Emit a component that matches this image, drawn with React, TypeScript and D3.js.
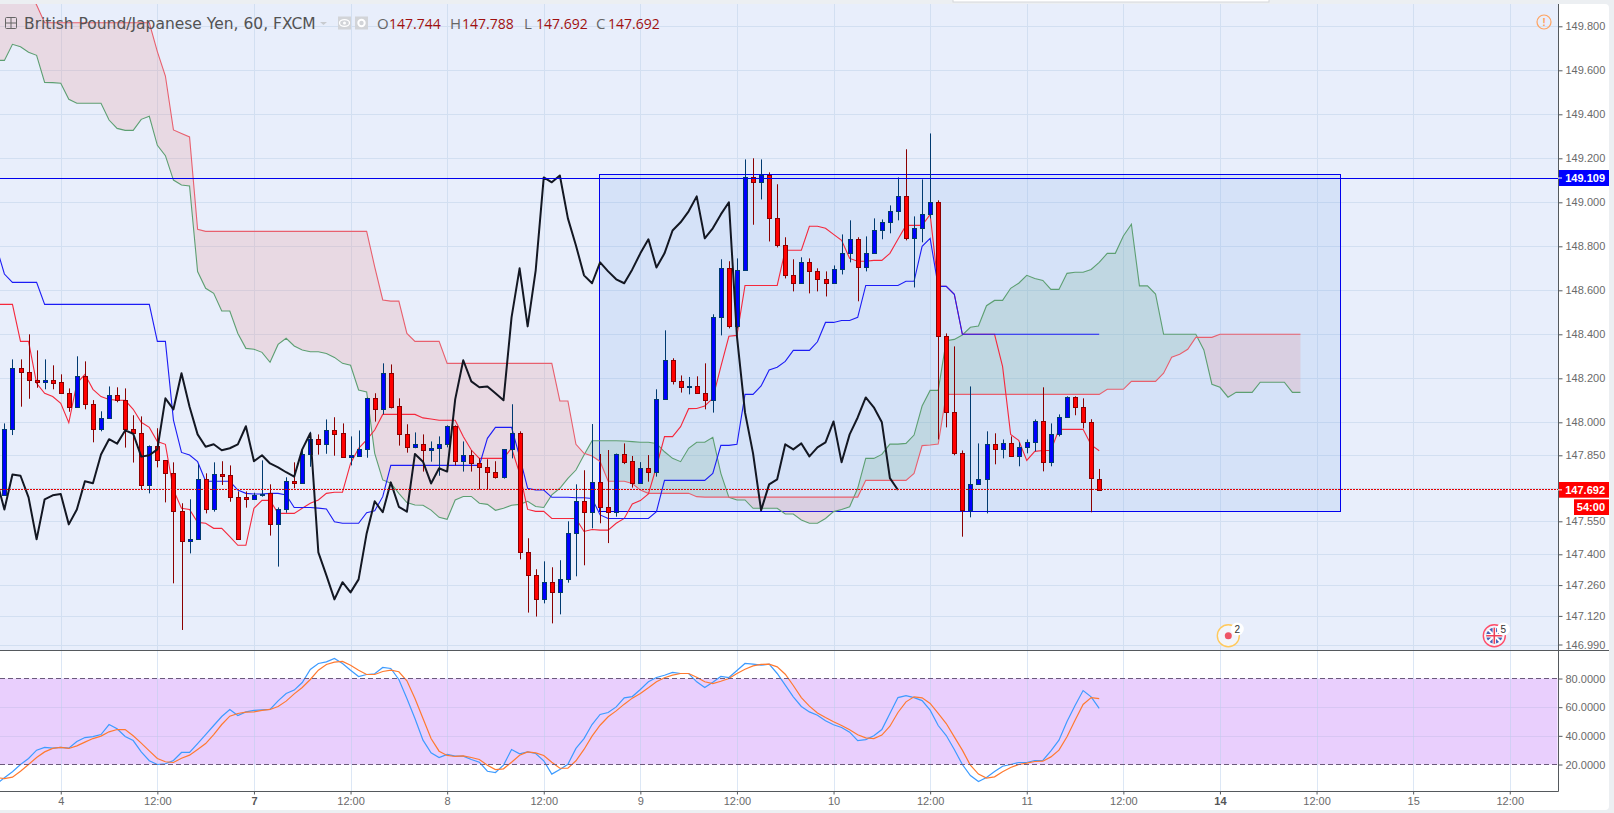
import { useRef, useEffect } from "react";
import * as d3 from "d3";

// candles, one per hour
const opens = [
  147.670, 147.968, 148.245, 148.227, 148.191, 148.185, 148.191, 148.182, 148.132, 148.068,
  148.209, 148.082, 147.968, 148.018, 148.123, 148.100, 147.968, 147.950, 147.713, 147.891,
  147.827, 147.768, 147.595, 147.459, 147.468, 147.741, 147.604, 147.763, 147.759, 147.659,
  147.659, 147.650, 147.668, 147.677, 147.536, 147.604, 147.732, 147.723, 147.854, 147.923,
  147.903, 147.963, 147.950, 147.844, 147.848, 147.877, 148.109, 148.059, 148.223, 148.073,
  147.945, 147.889, 147.900, 147.873, 147.882, 147.900, 147.982, 147.823, 147.850, 147.813,
  147.795, 147.773, 147.753, 147.877, 147.950, 147.409, 147.304, 147.195, 147.273, 147.227,
  147.286, 147.495, 147.641, 147.591, 147.727, 147.616, 147.594, 147.856, 147.824, 147.722,
  147.791, 147.776, 148.104, 148.282, 148.186, 148.159, 148.163, 148.132, 148.100, 148.477,
  148.700, 148.436, 148.691, 149.113, 149.091, 149.122, 148.927, 148.804, 148.668, 148.632,
  148.727, 148.686, 148.650, 148.632, 148.695, 148.768, 148.832, 148.704, 148.768, 148.872,
  148.909, 148.959, 149.027, 148.836, 148.882, 148.945, 149.000, 148.391, 148.045, 147.859,
  147.600, 147.718, 147.741, 147.900, 147.877, 147.904, 147.845, 147.886, 147.909, 148.004,
  147.818, 147.945, 148.022, 148.113, 148.068, 148.000, 147.744,
];
const highs = [
  147.995, 148.286, 148.286, 148.400, 148.327, 148.286, 148.259, 148.218, 148.154, 148.300,
  148.277, 148.101, 148.050, 148.163, 148.159, 148.154, 148.032, 148.027, 147.895, 147.973,
  147.827, 147.818, 147.632, 147.650, 147.809, 147.768, 147.818, 147.823, 147.804, 147.686,
  147.686, 147.680, 147.827, 147.718, 147.613, 147.750, 147.818, 147.882, 147.957, 147.945,
  148.013, 148.023, 147.995, 147.936, 147.963, 148.112, 148.132, 148.268, 148.263, 148.109,
  147.991, 147.954, 147.945, 147.913, 147.936, 147.986, 147.986, 147.913, 147.873, 147.836,
  147.832, 147.823, 147.877, 148.082, 147.959, 147.473, 147.332, 147.368, 147.341, 147.373,
  147.550, 147.718, 147.782, 147.992, 147.856, 147.874, 147.858, 147.904, 147.847, 147.819,
  147.851, 148.150, 148.418, 148.291, 148.213, 148.206, 148.209, 148.268, 148.491, 148.741,
  148.732, 148.745, 149.195, 149.200, 149.195, 149.136, 149.082, 148.841, 148.741, 148.750,
  148.745, 148.700, 148.686, 148.713, 148.854, 148.918, 148.841, 148.845, 148.927, 148.922,
  148.986, 149.113, 149.241, 148.936, 149.104, 149.313, 149.009, 148.404, 148.345, 147.872,
  148.163, 147.904, 147.959, 147.950, 147.922, 147.936, 147.909, 147.922, 148.013, 148.159,
  147.995, 148.036, 148.118, 148.118, 148.109, 148.014, 147.788,
];
const lows = [
  147.665, 147.942, 148.071, 148.107, 148.157, 148.150, 148.150, 148.132, 148.048, 148.068,
  148.059, 147.909, 147.959, 148.018, 148.091, 147.885, 147.817, 147.695, 147.677, 147.795,
  147.636, 147.268, 147.056, 147.404, 147.468, 147.586, 147.594, 147.715, 147.639, 147.468,
  147.612, 147.650, 147.662, 147.485, 147.344, 147.589, 147.700, 147.723, 147.798, 147.853,
  147.857, 147.848, 147.839, 147.804, 147.848, 147.839, 148.003, 148.036, 148.063, 147.894,
  147.862, 147.882, 147.776, 147.821, 147.757, 147.886, 147.804, 147.776, 147.776, 147.695,
  147.695, 147.744, 147.744, 147.836, 147.377, 147.135, 147.117, 147.177, 147.086, 147.127,
  147.271, 147.300, 147.350, 147.518, 147.541, 147.451, 147.571, 147.810, 147.703, 147.722,
  147.730, 147.753, 148.104, 148.172, 148.135, 148.127, 148.129, 148.059, 148.044, 148.395,
  148.427, 148.427, 148.691, 148.898, 149.013, 148.822, 148.795, 148.654, 148.595, 148.632,
  148.586, 148.595, 148.572, 148.632, 148.672, 148.727, 148.550, 148.686, 148.768, 148.832,
  148.859, 148.918, 148.827, 148.613, 148.818, 148.927, 147.922, 147.977, 147.850, 147.480,
  147.568, 147.718, 147.586, 147.809, 147.836, 147.845, 147.800, 147.859, 147.868, 147.777,
  147.800, 147.936, 148.022, 148.032, 147.972, 147.591, 147.692,
];
const closes = [
  147.968, 148.245, 148.227, 148.191, 148.185, 148.191, 148.180, 148.132, 148.068, 148.209,
  148.082, 147.968, 148.018, 148.123, 148.100, 147.968, 147.950, 147.713, 147.891, 147.827,
  147.768, 147.595, 147.459, 147.468, 147.741, 147.604, 147.763, 147.757, 147.659, 147.468,
  147.650, 147.668, 147.674, 147.536, 147.604, 147.732, 147.723, 147.854, 147.923, 147.903,
  147.963, 147.948, 147.844, 147.850, 147.877, 148.109, 148.059, 148.223, 148.071, 147.945,
  147.889, 147.900, 147.873, 147.882, 147.900, 147.982, 147.823, 147.850, 147.813, 147.795,
  147.773, 147.753, 147.877, 147.950, 147.409, 147.304, 147.195, 147.273, 147.227, 147.286,
  147.495, 147.641, 147.591, 147.727, 147.616, 147.594, 147.856, 147.821, 147.722, 147.791,
  147.776, 148.104, 148.282, 148.186, 148.159, 148.163, 148.132, 148.100, 148.477, 148.700,
  148.436, 148.691, 149.113, 149.091, 149.122, 148.927, 148.804, 148.668, 148.632, 148.727,
  148.686, 148.650, 148.632, 148.695, 148.768, 148.832, 148.704, 148.768, 148.872, 148.909,
  148.959, 149.027, 148.836, 148.882, 148.945, 149.000, 148.391, 148.045, 147.859, 147.600,
  147.718, 147.741, 147.900, 147.877, 147.904, 147.845, 147.886, 147.909, 148.004, 147.818,
  147.945, 148.022, 148.113, 148.068, 148.000, 147.746, 147.692,
];

// ichimoku lines, all start one bar left of the first candle
const tenkan = [
  148.536, 148.536, 148.536, 148.368, 148.368, 148.177, 148.132, 148.117, 148.086, 147.998,
  148.177, 148.218, 148.150, 148.117, 148.104, 148.100, 148.100, 148.059, 148.000, 147.977,
  147.913, 147.900, 147.692, 147.609, 147.604, 147.545, 147.541, 147.518, 147.518, 147.480,
  147.441, 147.441, 147.609, 147.645, 147.645, 147.586, 147.586, 147.586, 147.609, 147.632,
  147.647, 147.677, 147.682, 147.682, 147.813, 147.882, 147.920, 147.965, 148.036, 148.036,
  148.036, 148.036, 148.036, 148.020, 148.015, 148.009, 148.009, 148.009, 147.935, 147.874,
  147.836, 147.836, 147.836, 147.836, 147.882, 147.768, 147.604, 147.595, 147.595, 147.563,
  147.563, 147.563, 147.563, 147.504, 147.513, 147.510, 147.510, 147.541, 147.563, 147.629,
  147.644, 147.674, 147.798, 147.935, 147.935, 147.980, 148.062, 148.063, 148.074, 148.109,
  148.253, 148.391, 148.395, 148.622, 148.622, 148.622, 148.622, 148.622, 148.782, 148.782,
  148.782, 148.891, 148.891, 148.882, 148.854, 148.827, 148.745, 148.732, 148.732, 148.736,
  148.736, 148.768, 148.832, 148.895, 148.895, 148.895, 148.945, 148.618, 148.618, 148.582,
  148.400, 148.400, 148.400, 148.400, 148.400, 148.253, 147.945, 147.918, 147.827, 147.868,
  147.872, 147.872, 147.968, 147.968, 147.968, 147.968, 147.897, 147.871,
];
const kijun = [
  148.798, 148.674, 148.636, 148.636, 148.636, 148.636, 148.536, 148.536, 148.536, 148.536,
  148.536, 148.536, 148.536, 148.536, 148.536, 148.536, 148.536, 148.536, 148.536, 148.536,
  148.368, 148.368, 148.010, 147.863, 147.851, 147.821, 147.732, 147.732, 147.732, 147.732,
  147.692, 147.677, 147.674, 147.674, 147.677, 147.677, 147.670, 147.613, 147.613, 147.613,
  147.610, 147.606, 147.548, 147.541, 147.541, 147.541, 147.589, 147.598, 147.662, 147.804,
  147.804, 147.804, 147.804, 147.804, 147.804, 147.804, 147.804, 147.804, 147.804, 147.804,
  147.804, 147.927, 147.977, 147.977, 147.977, 147.844, 147.700, 147.692, 147.692, 147.659,
  147.659, 147.659, 147.657, 147.657, 147.654, 147.579, 147.563, 147.563, 147.563, 147.563,
  147.563, 147.563, 147.594, 147.736, 147.736, 147.736, 147.736, 147.736, 147.736, 147.768,
  147.895, 147.895, 147.900, 148.127, 148.127, 148.165, 148.238, 148.250, 148.277, 148.327,
  148.327, 148.327, 148.366, 148.454, 148.454, 148.463, 148.463, 148.477, 148.622, 148.622,
  148.622, 148.622, 148.622, 148.641, 148.641, 148.800, 148.836, 148.618, 148.618, 148.582,
  148.400, 148.400, 148.400, 148.400, 148.400, 148.400, 148.400, 148.400, 148.400, 148.400,
  148.400, 148.400, 148.400, 148.400, 148.400, 148.400, 148.400, 148.400,
];
const spanA = [
  149.645, 149.645, 149.718, 149.707, 149.682, 149.668, 149.545, 149.544, 149.541, 149.468,
  149.450, 149.450, 149.450, 149.450, 149.374, 149.336, 149.327, 149.327, 149.377, 149.391,
  149.259, 149.212, 149.101, 149.079, 149.074, 148.685, 148.609, 148.586, 148.506, 148.506,
  148.404, 148.336, 148.332, 148.318, 148.273, 148.354, 148.382, 148.347, 148.329, 148.321,
  148.321, 148.313, 148.295, 148.268, 148.259, 148.147, 148.138, 147.859, 147.738, 147.723,
  147.677, 147.635, 147.624, 147.623, 147.601, 147.568, 147.559, 147.647, 147.663, 147.663,
  147.632, 147.627, 147.600, 147.609, 147.623, 147.627, 147.641, 147.617, 147.613, 147.670,
  147.700, 147.745, 147.783, 147.851, 147.916, 147.916, 147.916, 147.916, 147.915, 147.912,
  147.909, 147.909, 147.904, 147.866, 147.836, 147.821, 147.882, 147.909, 147.909, 147.932,
  147.768, 147.659, 147.647, 147.647, 147.609, 147.609, 147.609, 147.609, 147.583, 147.583,
  147.556, 147.541, 147.541, 147.563, 147.594, 147.604, 147.616, 147.700, 147.836, 147.836,
  147.854, 147.901, 147.901, 147.904, 147.942, 148.074, 148.145, 148.145, 148.371, 148.377,
  148.397, 148.432, 148.438, 148.530, 148.554, 148.554, 148.609, 148.632, 148.668, 148.654,
  148.645, 148.604, 148.604, 148.677, 148.682, 148.682, 148.695, 148.727, 148.768, 148.768,
  148.847, 148.900, 148.620, 148.620, 148.583, 148.400, 148.400, 148.400, 148.400, 148.400,
  148.329, 148.173, 148.159, 148.114, 148.136, 148.136, 148.136, 148.182, 148.182, 148.182,
  148.182, 148.136, 148.136,
];
const spanB = [
  150.100, 150.100, 150.100, 150.100, 149.965, 149.897, 149.816, 149.816, 149.816, 149.816,
  149.816, 149.816, 149.816, 149.816, 149.816, 149.816, 149.816, 149.816, 149.816, 149.816,
  149.685, 149.574, 149.329, 149.313, 149.297, 148.877, 148.868, 148.868, 148.868, 148.868,
  148.868, 148.868, 148.868, 148.868, 148.868, 148.868, 148.868, 148.868, 148.868, 148.868,
  148.868, 148.868, 148.868, 148.868, 148.868, 148.868, 148.868, 148.707, 148.556, 148.551,
  148.551, 148.404, 148.368, 148.368, 148.368, 148.368, 148.268, 148.268, 148.268, 148.268,
  148.268, 148.268, 148.268, 148.268, 148.268, 148.268, 148.268, 148.268, 148.268, 148.268,
  148.097, 148.097, 147.900, 147.859, 147.847, 147.822, 147.732, 147.732, 147.732, 147.722,
  147.692, 147.677, 147.677, 147.677, 147.677, 147.677, 147.677, 147.662, 147.660, 147.660,
  147.660, 147.660, 147.660, 147.660, 147.660, 147.660, 147.660, 147.660, 147.660, 147.660,
  147.660, 147.660, 147.660, 147.660, 147.660, 147.660, 147.660, 147.660, 147.736, 147.736,
  147.736, 147.736, 147.736, 147.736, 147.768, 147.894, 147.897, 147.901, 148.127, 148.127,
  148.127, 148.127, 148.127, 148.127, 148.127, 148.127, 148.127, 148.127, 148.127, 148.127,
  148.127, 148.127, 148.127, 148.127, 148.127, 148.127, 148.127, 148.127, 148.150, 148.150,
  148.150, 148.186, 148.186, 148.186, 148.186, 148.223, 148.296, 148.309, 148.332, 148.386,
  148.386, 148.386, 148.400, 148.400, 148.400, 148.400, 148.400, 148.400, 148.400, 148.400,
  148.400, 148.400, 148.400,
];

// stochastic pane, also starting one bar left of the first candle
const stochK = [
  6.3, 10.7, 14.9, 20.0, 24.2, 30.0, 31.9, 31.4, 31.9, 31.4,
  36.0, 38.8, 39.5, 40.9, 47.9, 44.9, 39.5, 36.7, 28.8, 22.6,
  20.0, 20.5, 22.8, 28.4, 28.4, 34.6, 40.9, 47.2, 53.5, 58.4,
  54.2, 56.7, 57.7, 58.1, 58.4, 64.4, 69.5, 71.9, 77.2, 86.3,
  90.5, 91.6, 94.0, 90.5, 85.8, 81.4, 82.8, 83.3, 87.7, 87.0,
  79.3, 66.0, 52.1, 37.0, 28.1, 24.9, 27.0, 25.8, 25.8, 23.5,
  21.6, 15.3, 14.4, 19.5, 30.5, 27.4, 28.8, 27.7, 22.6, 13.3,
  16.5, 20.2, 31.2, 38.1, 47.9, 54.9, 56.3, 60.2, 66.5, 67.4,
  72.3, 77.7, 80.7, 82.3, 84.2, 83.5, 83.5, 77.7, 73.7, 77.4,
  81.4, 80.7, 85.6, 90.5, 90.0, 89.3, 90.0, 83.5, 75.4, 67.2,
  60.5, 56.7, 54.4, 50.5, 47.7, 45.8, 42.6, 36.7, 37.4, 40.0,
  44.4, 55.6, 66.7, 68.1, 66.7, 64.6, 57.9, 47.2, 40.2, 30.5,
  20.0, 12.3, 8.1, 10.9, 15.1, 18.8, 20.0, 21.4, 21.4, 22.8,
  22.8, 29.5, 37.0, 50.0, 61.2, 71.6, 67.2, 59.1,
];
const stochD = [
  10.9, 10.2, 11.2, 15.3, 20.0, 24.9, 28.8, 31.2, 31.9, 31.2,
  33.0, 35.6, 38.1, 39.8, 42.8, 44.4, 44.4, 40.0, 34.9, 29.5,
  24.2, 21.9, 21.4, 24.4, 26.5, 30.5, 34.6, 40.9, 47.9, 53.7,
  55.6, 56.5, 56.7, 57.7, 58.4, 60.5, 64.2, 69.3, 73.7, 79.3,
  85.8, 89.8, 91.4, 91.9, 89.3, 85.8, 82.8, 82.8, 84.9, 85.8,
  84.7, 78.4, 66.0, 52.1, 38.1, 29.3, 26.3, 25.6, 26.0, 24.9,
  23.5, 19.5, 16.5, 17.0, 21.6, 26.5, 28.8, 28.1, 26.3, 21.6,
  17.4, 17.4, 22.6, 30.5, 39.8, 47.4, 53.3, 57.4, 62.1, 66.3,
  69.5, 73.5, 77.7, 80.5, 82.3, 83.5, 83.5, 80.9, 77.7, 76.5,
  78.1, 80.0, 83.5, 86.5, 88.8, 89.8, 90.0, 88.1, 83.0, 75.1,
  66.7, 60.7, 56.0, 52.8, 49.8, 47.2, 44.2, 40.7, 38.6, 38.1,
  40.5, 46.7, 56.3, 63.7, 67.2, 66.5, 62.6, 55.6, 48.6, 39.3,
  30.0, 19.5, 13.3, 10.5, 11.4, 14.9, 17.9, 20.0, 20.9, 22.1,
  22.3, 25.3, 30.0, 39.3, 50.9, 61.9, 66.7, 66.0,
];

const priceTicks = [
  149.8, 149.6, 149.4, 149.2, 149.0, 148.8, 148.6, 148.4, 148.2, 148.0, 147.85, 147.7,
  147.55, 147.4, 147.26, 147.12, 146.99,
];
const stochTicks = [80, 60, 40, 20];
const timeTickBars = [7, 19, 31, 43, 55, 67, 79, 91, 103, 115, 127, 139, 151, 163, 175, 187];
const timeTickLabels = [
  "4", "12:00", "7", "12:00", "8", "12:00", "9", "12:00", "10", "12:00", "11", "12:00", "14",
  "12:00", "15", "12:00",
];
const boldTimeLabels = ["7", "14"];

const levelPrice = 149.109;
const lastPrice = 147.692;
const boxBars = [74, 166];
const boxPrices = [149.127, 147.595];
const ohlcLabels = ["O", "H", "L", "C"];
const ohlcValues = ["147.744", "147.788", "147.692", "147.692"];
const ohlcX = [377, 450, 524, 596];

const WIDTH = 1614;
const HEIGHT = 813;
const AXIS_X = 1558.5;
const PANE_TOP = 4;
const PANE_BOTTOM = 650.5;
const TIME_Y = 791.5;
const AXIS_FONT = "'Liberation Sans', Arial, sans-serif";

export default function App() {
  const ref = useRef<SVGSVGElement>(null);

  useEffect(() => {
    if (!ref.current) return;
    const svg = d3.select(ref.current);
    svg.selectAll("*").remove();

    const x = d3.scaleLinear().domain([0, 136]).range([4.4, 1099.2]);
    const y = d3.scaleLinear().domain([149.8, 146.99]).range([26.3, 644.5]);
    const yStoch = d3.scaleLinear().domain([80, 20]).range([678.5, 764.5]);

    // page, white panels and the blue price pane
    svg.append("rect").attr("width", WIDTH).attr("height", HEIGHT).attr("fill", "#eceff2");
    svg.append("rect").attr("x", -6).attr("y", PANE_TOP).attr("width", 1615).attr("height", 806)
      .attr("rx", 4).attr("fill", "#ffffff");
    svg.append("rect").attr("y", PANE_TOP).attr("width", AXIS_X).attr("height", PANE_BOTTOM - PANE_TOP)
      .attr("fill", "#e8eefb");
    svg.append("rect").attr("x", 953).attr("y", -2).attr("width", 316).attr("height", 4)
      .attr("fill", "#ffffff").attr("stroke", "#d5d7da");

    const defs = svg.append("defs");
    defs.append("clipPath").attr("id", "pane").append("rect")
      .attr("y", PANE_TOP).attr("width", AXIS_X).attr("height", PANE_BOTTOM - PANE_TOP);
    defs.append("clipPath").attr("id", "stoch").append("rect")
      .attr("y", PANE_BOTTOM).attr("width", AXIS_X).attr("height", TIME_Y - PANE_BOTTOM);
    defs.append("clipPath").attr("id", "axis").append("rect")
      .attr("x", AXIS_X).attr("y", PANE_TOP).attr("width", 52).attr("height", PANE_BOTTOM - PANE_TOP);

    // stochastic band sits below the grid
    svg.append("rect").attr("y", yStoch(80)).attr("width", AXIS_X - 1)
      .attr("height", yStoch(20) - yStoch(80)).attr("fill", "#e9cffd");

    // grid
    const grid = svg.append("g").attr("fill", "none");
    grid.append("g").selectAll("line").data(priceTicks).join("line")
      .attr("x2", AXIS_X).attr("y1", (d) => Math.round(y(d)) + 0.5).attr("y2", (d) => Math.round(y(d)) + 0.5)
      .attr("stroke", "#d2dff1");
    grid.append("g").selectAll("line").data(stochTicks.slice(1, 3)).join("line")
      .attr("x2", AXIS_X - 1).attr("y1", (d) => Math.round(yStoch(d)) + 0.5).attr("y2", (d) => Math.round(yStoch(d)) + 0.5)
      .attr("stroke", "#d8c6f3");
    grid.append("g").selectAll("line").data(timeTickBars).join("line")
      .attr("x1", (d) => Math.round(x(d)) + 0.5).attr("x2", (d) => Math.round(x(d)) + 0.5)
      .attr("y1", PANE_TOP).attr("y2", PANE_BOTTOM)
      .attr("stroke", "#d2dff1");
    grid.append("g").selectAll("line").data(timeTickBars).join("line")
      .attr("x1", (d) => Math.round(x(d)) + 0.5).attr("x2", (d) => Math.round(x(d)) + 0.5)
      .attr("y1", PANE_BOTTOM).attr("y2", TIME_Y)
      .attr("stroke", "#b9d0ec").attr("stroke-opacity", 0.5);

    const pane = svg.append("g").attr("clip-path", "url(#pane)");

    // rectangle drawing
    pane.append("rect")
      .attr("x", Math.round(x(boxBars[0])) - 0.5)
      .attr("y", Math.round(y(boxPrices[0])) + 0.5)
      .attr("width", Math.round(x(boxBars[1])) - Math.round(x(boxBars[0])))
      .attr("height", Math.round(y(boxPrices[1])) - Math.round(y(boxPrices[0])))
      .attr("fill", "#699eee").attr("fill-opacity", 0.15)
      .attr("stroke", "#0000ee").attr("stroke-width", 1);

    // cloud, split where the two spans cross so each side gets its own colour
    const cloud: { i: number; a: number; b: number }[] = [];
    spanA.forEach((a, k) => {
      const b = spanB[k];
      if (k > 0) {
        const d0 = spanA[k - 1] - spanB[k - 1];
        const d1 = a - b;
        if (d0 * d1 < 0) {
          const t = d0 / (d0 - d1);
          const p = spanA[k - 1] + (a - spanA[k - 1]) * t;
          cloud.push({ i: k - 2 + t, a: p, b: p });
        }
      }
      cloud.push({ i: k - 1, a, b });
    });
    const cloudArea = (pick: (a: number, b: number) => number) =>
      d3.area<{ i: number; a: number; b: number }>()
        .x((d) => x(d.i))
        .y0((d) => y(d.a))
        .y1((d) => y(pick(d.a, d.b)));
    pane.append("path").datum(cloud).attr("d", cloudArea(Math.max))
      .attr("fill", "#ed8588").attr("fill-opacity", 0.2);
    pane.append("path").datum(cloud).attr("d", cloudArea(Math.min))
      .attr("fill", "#6cb08b").attr("fill-opacity", 0.2);

    const seriesLine = d3.line<number>()
      .x((_, k) => x(k - 1))
      .y((d) => y(d));

    pane.append("path").datum(spanA).attr("d", seriesLine).attr("fill", "none")
      .attr("stroke", "#5d9f72").attr("stroke-width", 1.1);
    pane.append("path").datum(spanB).attr("d", seriesLine).attr("fill", "none")
      .attr("stroke", "#e8606e").attr("stroke-width", 1.1);
    pane.append("path").datum(tenkan).attr("d", seriesLine).attr("fill", "none")
      .attr("stroke", "#f5283c").attr("stroke-width", 1.1);
    pane.append("path").datum(kijun).attr("d", seriesLine).attr("fill", "none")
      .attr("stroke", "#1c1cf5").attr("stroke-width", 1.1);

    // candles
    const bars = opens.map((open, i) => ({ i, open, high: highs[i], low: lows[i], close: closes[i] }));
    const candles = pane.append("g").selectAll("g").data(bars).join("g")
      .attr("transform", (d) => `translate(${Math.round(x(d.i))},0)`);
    const isUp = (d: { open: number; close: number }) => d.close >= d.open;
    candles.append("line")
      .attr("x1", 0.5).attr("x2", 0.5)
      .attr("y1", (d) => y(d.high)).attr("y2", (d) => y(d.low))
      .attr("stroke", (d) => (isUp(d) ? "#003a70" : "#8b0000"));
    candles.append("rect")
      .attr("x", -1.5).attr("width", 4)
      .attr("y", (d) => Math.round(y(Math.max(d.open, d.close))) + 0.5)
      .attr("height", (d) => Math.max(1, Math.round(y(Math.min(d.open, d.close))) - Math.round(y(Math.max(d.open, d.close)))))
      .attr("fill", (d) => (isUp(d) ? "#0000ff" : "#ff0000"))
      .attr("stroke", (d) => (isUp(d) ? "#003a70" : "#8b0000"));

    // lagging line is the close moved back 25 bars
    const chikou = closes.slice(24);
    pane.append("path").datum(chikou).attr("d", seriesLine).attr("fill", "none")
      .attr("stroke", "#131722").attr("stroke-width", 2).attr("stroke-linejoin", "round");

    // level and last price lines
    svg.append("line").attr("x2", AXIS_X).attr("y1", Math.round(y(levelPrice)) + 0.5).attr("y2", Math.round(y(levelPrice)) + 0.5)
      .attr("stroke", "#0000ee");
    svg.append("line").attr("x2", AXIS_X).attr("y1", Math.round(y(lastPrice)) - 0.5).attr("y2", Math.round(y(lastPrice)) - 0.5)
      .attr("stroke", "#e30000").attr("stroke-dasharray", "2 1");

    // stochastic lines and their limits
    const stoch = svg.append("g").attr("clip-path", "url(#stoch)");
    const stochLine = d3.line<number>()
      .x((_, k) => x(k - 1))
      .y((d) => yStoch(d));
    stoch.append("path").datum(stochK).attr("d", stochLine).attr("fill", "none")
      .attr("stroke", "#3d9bff").attr("stroke-width", 1.2);
    stoch.append("path").datum(stochD).attr("d", stochLine).attr("fill", "none")
      .attr("stroke", "#ff7a30").attr("stroke-width", 1.2);
    stoch.append("g").selectAll("line").data([80, 20]).join("line")
      .attr("x2", AXIS_X).attr("y1", (d) => yStoch(d)).attr("y2", (d) => yStoch(d))
      .attr("stroke", "#6b5a7c").attr("stroke-dasharray", "5 3");

    // axes
    const styleAxis = (g: d3.Selection<SVGGElement, unknown, null, undefined>) => {
      g.select(".domain").remove();
      g.selectAll(".tick line").attr("stroke", "#555b60");
      g.selectAll(".tick text").attr("fill", "#6a6a6a").attr("font-family", AXIS_FONT).attr("font-size", 11);
    };
    svg.append("g")
      .attr("clip-path", "url(#axis)")
      .append("g")
      .attr("transform", `translate(${AXIS_X},0)`)
      .call(d3.axisRight(y).tickValues(priceTicks).tickFormat(d3.format(".3f")).tickSize(4).tickPadding(3))
      .call(styleAxis);
    svg.append("g")
      .attr("transform", `translate(${AXIS_X},0)`)
      .call(d3.axisRight(yStoch).tickValues(stochTicks).tickFormat(d3.format(".4f")).tickSize(4).tickPadding(3))
      .call(styleAxis);
    const timeAxis = svg.append("g")
      .attr("transform", `translate(0,${TIME_Y})`)
      .call(
        d3.axisBottom(x).tickValues(timeTickBars)
          .tickFormat((_, k) => timeTickLabels[k])
          .tickSize(3).tickPadding(3),
      )
      .call(styleAxis);
    timeAxis.selectAll<SVGTextElement, number>(".tick text")
      .attr("font-weight", (_, k) => (boldTimeLabels.includes(timeTickLabels[k]) ? "bold" : "normal"))
      .attr("fill", (_, k) => (boldTimeLabels.includes(timeTickLabels[k]) ? "#555555" : "#6a6a6a"));

    // pane borders
    const borders = svg.append("g").attr("stroke", "#55595d");
    borders.append("line").attr("x1", AXIS_X).attr("x2", AXIS_X).attr("y1", PANE_TOP).attr("y2", TIME_Y);
    borders.append("line").attr("x2", 1609).attr("y1", PANE_BOTTOM).attr("y2", PANE_BOTTOM);
    borders.append("line").attr("x2", AXIS_X).attr("y1", TIME_Y).attr("y2", TIME_Y);

    // price tags on the axis
    const tag = (x0: number, y0: number, w: number, h: number, fill: string, label: string) => {
      svg.append("rect").attr("x", x0).attr("y", y0).attr("width", w).attr("height", h).attr("fill", fill);
      svg.append("line").attr("x1", 1558).attr("x2", 1562).attr("y1", y0 + h / 2).attr("y2", y0 + h / 2)
        .attr("stroke", x0 < 1560 ? "#ffffff" : "none");
      svg.append("text").attr("x", 1605).attr("y", y0 + h / 2 + 4).attr("text-anchor", "end")
        .attr("font-family", AXIS_FONT).attr("font-size", 11).attr("font-weight", "bold")
        .attr("fill", "#ffffff").text(label);
    };
    tag(1559, 170, 50, 16, "#0000ff", levelPrice.toFixed(3));
    tag(1559, 482, 50, 15.7, "#ff0000", lastPrice.toFixed(3));
    tag(1574, 499.3, 35, 15.7, "#ff0000", "54:00");

    // legend row
    const legend = svg.append("g").attr("font-family", "'Open Sans', sans-serif").attr("font-size", 15);
    legend.append("rect").attr("x", 5.5).attr("y", 17.5).attr("width", 11).attr("height", 11)
      .attr("rx", 1).attr("fill", "none").attr("stroke", "#666666");
    legend.append("path").attr("d", "M6 23H16M11 18V28").attr("stroke", "#666666").attr("fill", "none");
    legend.append("text").attr("x", 24).attr("y", 28.5).attr("fill", "#535353")
      .attr("font-family", "'DejaVu Sans', Verdana, sans-serif").attr("font-size", 15.5)
      .text("British Pound/Japanese Yen, 60, FXCM");
    legend.append("path").attr("d", "M320 22h7l-3.5 3z").attr("fill", "#c8cbd0");
    legend.append("rect").attr("x", 338).attr("y", 16.5).attr("width", 13).attr("height", 13).attr("fill", "#d2d4d8");
    legend.append("ellipse").attr("cx", 344.5).attr("cy", 23).attr("rx", 5).attr("ry", 3.4)
      .attr("fill", "none").attr("stroke", "#ffffff").attr("stroke-width", 1.3);
    legend.append("circle").attr("cx", 344.5).attr("cy", 23).attr("r", 1.5).attr("fill", "#ffffff");
    legend.append("rect").attr("x", 355).attr("y", 16.5).attr("width", 13).attr("height", 13).attr("fill", "#d2d4d8");
    legend.append("circle").attr("cx", 361.5).attr("cy", 23).attr("r", 3.2)
      .attr("fill", "none").attr("stroke", "#ffffff").attr("stroke-width", 2);
    ohlcLabels.forEach((label, k) => {
      legend.append("text").attr("x", ohlcX[k]).attr("y", 28.5).attr("fill", "#666666").text(label);
      legend.append("text").attr("x", ohlcX[k] + 12).attr("y", 28.5).attr("fill", "#a01010")
        .attr("font-size", 14).text(ohlcValues[k]);
    });

    // warning mark
    svg.append("circle").attr("cx", 1544).attr("cy", 22).attr("r", 7)
      .attr("fill", "none").attr("stroke", "#ffa25f").attr("stroke-width", 1.2);
    svg.append("text").attr("x", 1544).attr("y", 26).attr("text-anchor", "middle")
      .attr("font-family", AXIS_FONT).attr("font-size", 11).attr("font-weight", "bold").attr("fill", "#ffa25f").text("!");

    // event markers on the time line
    const ring = (cx: number, color: string) => {
      svg.append("circle").attr("cx", cx).attr("cy", 635.7).attr("r", 11)
        .attr("fill", "#f2f5fb").attr("stroke", color).attr("stroke-width", 1.4);
    };
    const badge = (cx: number, count: string) => {
      svg.append("circle").attr("cx", cx + 9).attr("cy", 629).attr("r", 6.5).attr("fill", "#ffffff");
      svg.append("text").attr("x", cx + 9).attr("y", 632.5).attr("text-anchor", "middle")
        .attr("font-family", AXIS_FONT).attr("font-size", 10).attr("fill", "#333333").text(count);
    };
    ring(1228.3, "#ffc95c");
    svg.append("circle").attr("cx", 1228.3).attr("cy", 635.7).attr("r", 3.5).attr("fill", "#ee5566");
    badge(1228.3, "2");
    ring(1494.3, "#ff4d6a");
    const flag = svg.append("g").attr("transform", "translate(1494.3,635.7)");
    flag.append("circle").attr("r", 8).attr("fill", "#4a62b5");
    flag.append("path").attr("d", "M-6 -6L6 6M-6 6L6 -6").attr("stroke", "#ffffff").attr("stroke-width", 2);
    flag.append("path").attr("d", "M-8 0H8M0 -8V8").attr("stroke", "#ffffff").attr("stroke-width", 3.4);
    flag.append("path").attr("d", "M-8 0H8M0 -8V8").attr("stroke", "#ef4159").attr("stroke-width", 1.6);
    badge(1494.3, "5");
  }, []);

  return (
    <div style={{ position: "absolute", left: 0, top: 0 }}>
      <svg ref={ref} width={WIDTH} height={HEIGHT} style={{ display: "block" }} />
    </div>
  );
}
